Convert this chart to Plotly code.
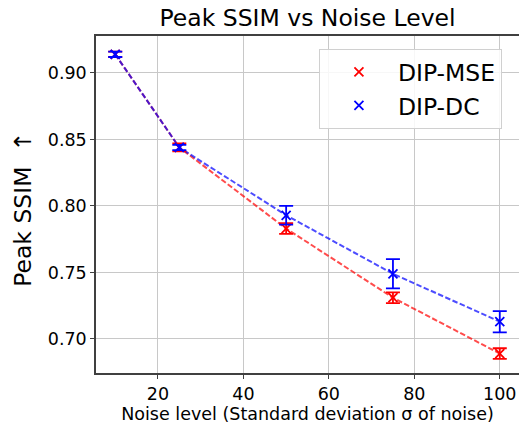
import plotly.graph_objects as go

noise = [10, 25, 50, 75, 100]
mse_mean = [0.914, 0.844, 0.783, 0.731, 0.689]
mse_err = [0.002, 0.003, 0.004, 0.004, 0.004]
dc_mean = [0.914, 0.844, 0.793, 0.749, 0.713]
dc_err = [0.002, 0.002, 0.007, 0.011, 0.008]

series = [
    ("DIP-MSE", mse_mean, mse_err, "#ff0000", "rgba(255,0,0,0.7)"),
    ("DIP-DC", dc_mean, dc_err, "#0000ff", "rgba(0,0,255,0.7)"),
]

FONT = "DejaVu Sans"
fig = go.Figure()
for name, m, e, c, lc in series:
    fig.add_trace(go.Scatter(
        x=noise, y=m, mode="lines", showlegend=False, hoverinfo="skip",
        line=dict(color=lc, width=2, dash="5.5px,2.4px"),
    ))
for name, m, e, c, lc in series:
    fig.add_trace(go.Scatter(
        x=noise, y=m, mode="markers", name=name,
        marker=dict(symbol="x-thin", size=9, color=c, line=dict(color=c, width=1.8)),
        error_y=dict(type="data", array=e, visible=True, color=c, thickness=1.8, width=7),
    ))

fig.update_layout(
    width=519, height=430,
    margin=dict(l=96, r=0, t=36, b=57, autoexpand=False),
    paper_bgcolor="white", plot_bgcolor="white",
    font=dict(family=FONT, color="black"),
    title=dict(text="Peak SSIM vs Noise Level", x=0.5925, xanchor="center",
               y=0.958, yanchor="middle", font=dict(size=23.5, family=FONT)),
    legend=dict(x=0.527, xanchor="left", y=0.961, yanchor="top",
                bgcolor="rgba(255,255,255,0.85)", bordercolor="#d0d0d0", borderwidth=1,
                font=dict(size=23.5, family=FONT), itemwidth=68,
                tracegroupgap=0),
    showlegend=True,
    annotations=[dict(text="Peak SSIM  ↑", xref="paper", yref="paper",
                      x=-0.1726, y=0.487, xanchor="center", yanchor="middle",
                      textangle=-90, showarrow=False, font=dict(size=23.5, family=FONT))],
)
fig.update_xaxes(
    range=[5.5, 104.5], tickvals=[20, 40, 60, 80, 100],
    showgrid=True, gridcolor="#c8c8c8", gridwidth=1,
    showline=True, linecolor="#404040", linewidth=1.5, mirror=True,
    ticks="outside", ticklen=4, tickcolor="#404040", tickfont=dict(size=17.5),
    zeroline=False,
    title=dict(text="Noise level (Standard deviation σ of noise)", font=dict(size=17.5), standoff=4),
)
fig.update_yaxes(
    range=[0.6744, 0.9278], tickvals=[0.70, 0.75, 0.80, 0.85, 0.90], tickformat=".2f",
    showgrid=True, gridcolor="#c8c8c8", gridwidth=1,
    showline=True, linecolor="#404040", linewidth=1.5, mirror=False,
    ticks="outside", ticklen=4, tickcolor="#404040", tickfont=dict(size=17.5),
    zeroline=False,
)
fig.write_html("out.html")
